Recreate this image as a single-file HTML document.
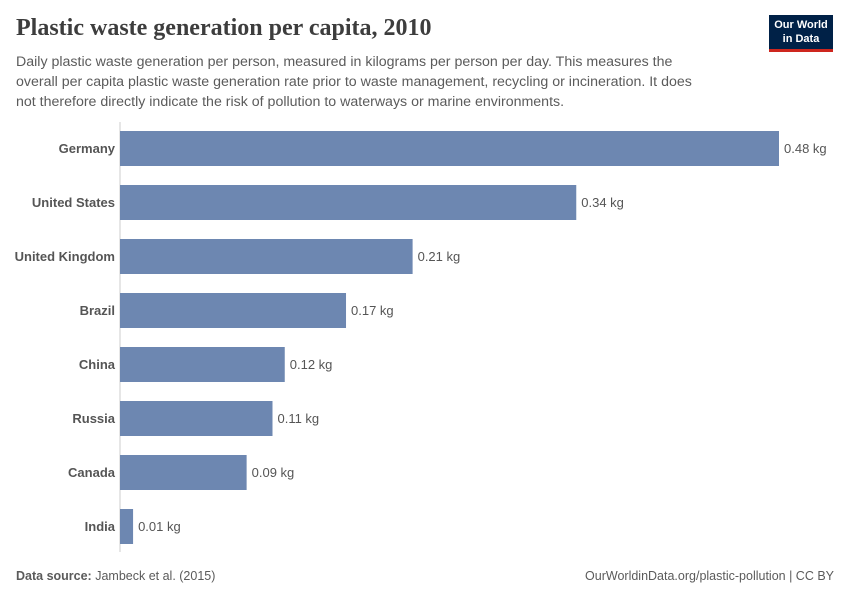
<!DOCTYPE html>
<html><head><meta charset="utf-8"><style>
body{margin:0;background:#fff;font-family:"Liberation Sans",sans-serif;}
#w{position:relative;width:850px;height:600px;overflow:hidden;}
h1{position:absolute;left:16px;top:15px;margin:0;font-family:"Liberation Serif",serif;font-weight:bold;font-size:24px;color:#3d3d3d;}
#sub{position:absolute;left:16px;top:52px;width:695px;font-size:14.2px;line-height:20px;color:#5b5b5b;}
#logo{position:absolute;left:769px;top:15px;width:64px;height:37px;background:#002147;border-bottom:3px solid #ce261e;color:#fff;font-size:11px;font-weight:bold;text-align:center;line-height:14px;padding-top:3px;box-sizing:border-box;}
.f{position:absolute;top:569px;font-size:12.5px;color:#5b5b5b;}
</style></head><body><div id="w">
<h1>Plastic waste generation per capita, 2010</h1>
<div id="sub">Daily plastic waste generation per person, measured in kilograms per person per day. This measures the overall per capita plastic waste generation rate prior to waste management, recycling or incineration. It does not therefore directly indicate the risk of pollution to waterways or marine environments.</div>
<div id="logo">Our World<br>in Data</div>
<svg id="s" width="850" height="600" style="position:absolute;left:0;top:0"></svg>
<div class="f" style="left:16px"><b>Data source:</b> Jambeck et al. (2015)</div>
<div class="f" style="right:16px">OurWorldinData.org/plastic-pollution | CC BY</div>
</div>
<script>
const categories=["Germany","United States","United Kingdom","Brazil","China","Russia","Canada","India"];
const values=[0.484,0.3351,0.2149,0.166,0.121,0.112,0.093,0.0096];
const unit=" kg";
const s=document.getElementById('s');const NS="http://www.w3.org/2000/svg";
const x0=120,x1=779,maxV=Math.max(...values);
const xs=v=>x0+v/maxV*(x1-x0);
const ys=i=>131+i*54;
function mk(t,a){const e=document.createElementNS(NS,t);for(const k in a)e.setAttribute(k,a[k]);s.appendChild(e);return e;}
const ax=mk('line',{x1:x0,x2:x0,y1:122,y2:552,stroke:'#ccc'});


categories.forEach((c,i)=>{
 const r=mk('rect',{x:x0,y:ys(i),width:xs(values[i])-x0,height:35,fill:'#6d87b1'});
 
 
 const l=mk('text',{x:115,y:ys(i)+22,'text-anchor':'end','font-size':'13','font-weight':'bold',fill:'#555'});l.textContent=c;
 
 
 const v=mk('text',{x:xs(values[i])+5,y:ys(i)+22,'font-size':'13',fill:'#555'});v.textContent=values[i].toFixed(2)+unit;
 
 
});
</script></body></html>
